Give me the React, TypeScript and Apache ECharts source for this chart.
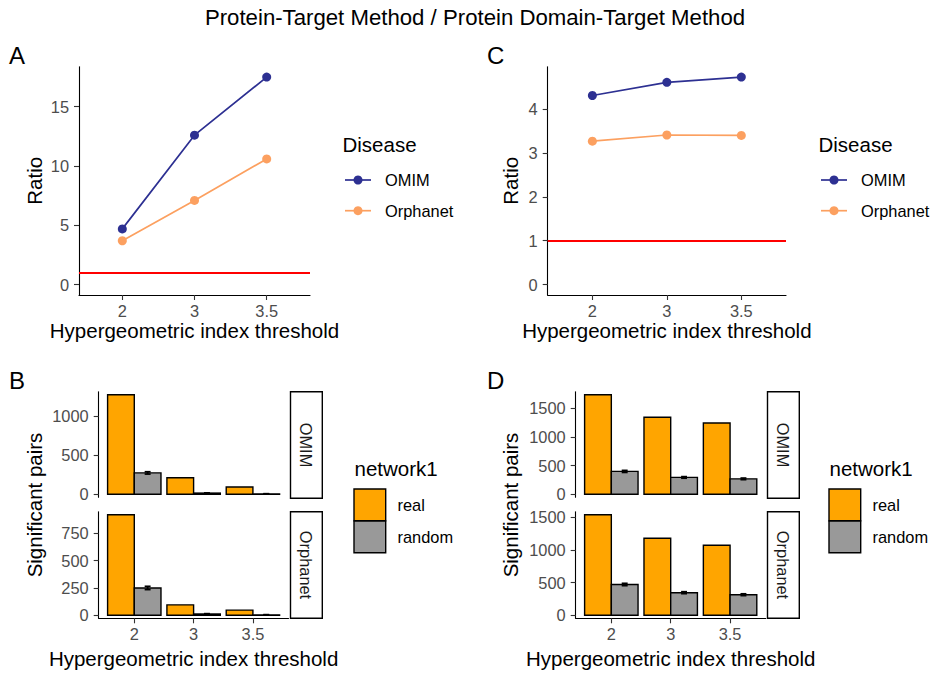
import React, { useEffect, useRef } from "react";
import * as echarts from "echarts";

// ---------- data ----------
const thresholds = ["2", "3", "3.5"];
const diseases = ["OMIM", "Orphanet"];
const networkTypes = ["real", "random"];

// Panel A (Protein-Target Method): ratio
const ratioA_OMIM = [4.7, 12.6, 17.5];
const ratioA_Orphanet = [3.7, 7.1, 10.6];
// Panel C (Protein Domain-Target Method): ratio
const ratioC_OMIM = [4.31, 4.61, 4.73];
const ratioC_Orphanet = [3.27, 3.41, 3.4];
const ratioReference = 1;

// Panel B: significant pairs
const pairsB_OMIM_real = [1280, 213, 93];
const pairsB_OMIM_random = [275, 16, 6];
const pairsB_OMIM_randomErr = [15, 3, 2];
const pairsB_Orphanet_real = [920, 95, 47];
const pairsB_Orphanet_random = [250, 12, 4];
const pairsB_Orphanet_randomErr = [15, 3, 2];
// Panel D: significant pairs
const pairsD_OMIM_real = [1740, 1345, 1245];
const pairsD_OMIM_random = [400, 295, 270];
const pairsD_OMIM_randomErr = [18, 14, 14];
const pairsD_Orphanet_real = [1535, 1175, 1068];
const pairsD_Orphanet_random = [470, 345, 314];
const pairsD_Orphanet_randomErr = [18, 15, 14];

// tick labels
const ticksA = [0, 5, 10, 15];
const ticksC = [0, 1, 2, 3, 4];
const ticksB_OMIM = [0, 500, 1000];
const ticksB_Orphanet = [0, 250, 500, 750];
const ticksD = [0, 500, 1000, 1500];

// ---------- style ----------
const FONT = "'Liberation Sans', Arial, Helvetica, sans-serif";
const COL_OMIM = "#2D3092";
const COL_ORPH = "#FCA060";
const COL_REAL = "#FFA500";
const COL_RANDOM = "#999999";
const TICK_FS = 16.4;
const TITLE_FS = 20.5;

const xIdx = thresholds.map((_, i) => i + 1);

function xAxisCfg(gridIndex: number, show: boolean, name?: string, nameGap?: number) {
  return {
    type: "value",
    gridIndex,
    min: 0.4,
    max: 3.6,
    axisLine: { show, onZero: false, lineStyle: { color: "#000", width: 1.1 } },
    axisTick: { show, customValues: xIdx, length: 5, lineStyle: { color: "#333", width: 1.1 } },
    axisLabel: {
      show,
      customValues: xIdx,
      formatter: (v: number) => thresholds[Math.round(v) - 1] ?? "",
      margin: 8,
      color: "#4D4D4D",
      fontSize: TICK_FS,
      fontFamily: FONT,
    },
    splitLine: { show: false },
    name: name || "",
    nameLocation: "middle",
    nameGap: nameGap || 0,
    nameTextStyle: { fontSize: TITLE_FS, color: "#000", fontFamily: FONT },
  };
}

function yAxisCfg(gridIndex: number, min: number, max: number, ticks: number[], name?: string, nameGap?: number) {
  return {
    type: "value",
    gridIndex,
    min,
    max,
    axisLine: { show: true, onZero: false, lineStyle: { color: "#000", width: 1.1 } },
    axisTick: { show: true, customValues: ticks, length: 5, lineStyle: { color: "#333", width: 1.1 } },
    axisLabel: {
      show: true,
      customValues: ticks,
      formatter: (v: number) => String(Math.round(v * 100) / 100),
      margin: 10,
      color: "#4D4D4D",
      fontSize: TICK_FS,
      fontFamily: FONT,
    },
    splitLine: { show: false },
    name: name || "",
    nameLocation: "middle",
    nameGap: nameGap || 0,
    nameTextStyle: { fontSize: TITLE_FS, color: "#000", fontFamily: FONT },
  };
}

function lineRange(a: number[], b: number[]) {
  const m = Math.max(...a, ...b, 0);
  return [-0.05 * m, 1.05 * m];
}
function barRange(real: number[], rnd: number[], err: number[]) {
  const m = Math.max(...real, ...rnd.map((v, i) => v + err[i]));
  return [-0.03 * m, 1.03 * m];
}

function lineSeries(name: string, vals: number[], color: string, gi: number, withRef: boolean) {
  const s: any = {
    type: "line",
    name,
    xAxisIndex: gi,
    yAxisIndex: gi,
    data: vals.map((v, i) => [xIdx[i], v]),
    symbol: "circle",
    symbolSize: 9,
    itemStyle: { color },
    lineStyle: { color, width: 1.7 },
  };
  if (withRef) {
    s.markLine = {
      silent: true,
      symbol: ["none", "none"],
      label: { show: false },
      lineStyle: { color: "#FF0000", width: 1.8, type: "solid", opacity: 1 },
      data: [{ yAxis: ratioReference }],
    };
  }
  return s;
}

function barSeries(gi: number, real: number[], rnd: number[]) {
  const data: number[][] = [];
  real.forEach((v, i) => data.push([xIdx[i], v, 0]));
  rnd.forEach((v, i) => data.push([xIdx[i], v, 1]));
  return {
    type: "custom",
    name: networkTypes.join("/"),
    coordinateSystem: "cartesian2d",
    xAxisIndex: gi,
    yAxisIndex: gi,
    encode: { x: 0, y: 1 },
    data,
    renderItem: (params: any, api: any) => {
      const x = api.value(0);
      const y = api.value(1);
      const g = api.value(2);
      const p0 = api.coord([x - 0.45 + g * 0.45, y]);
      const p1 = api.coord([x + g * 0.45, 0]);
      return {
        type: "rect",
        shape: { x: p0[0], y: p0[1], width: p1[0] - p0[0], height: p1[1] - p0[1] },
        style: { fill: g ? COL_RANDOM : COL_REAL, stroke: "#000", lineWidth: 1.4 },
      };
    },
  };
}

function errSeries(gi: number, rnd: number[], err: number[]) {
  return {
    type: "custom",
    name: "random error",
    coordinateSystem: "cartesian2d",
    xAxisIndex: gi,
    yAxisIndex: gi,
    encode: { x: 0, y: 1 },
    data: rnd.map((v, i) => [xIdx[i], v, err[i]]),
    z: 5,
    renderItem: (params: any, api: any) => {
      const x = api.value(0) + 0.225;
      const m = api.value(1);
      const e = api.value(2);
      const lo = api.coord([x, Math.max(m - e, 0)]);
      const hi = api.coord([x, m + e]);
      const loL = api.coord([x - 0.05, m - e]);
      const loR = api.coord([x + 0.05, m - e]);
      const hiL = api.coord([x - 0.05, m + e]);
      const hiR = api.coord([x + 0.05, m + e]);
      const st = { stroke: "#000", lineWidth: 1.7 };
      return {
        type: "group",
        children: [
          { type: "line", shape: { x1: lo[0], y1: lo[1], x2: hi[0], y2: hi[1] }, style: st },
          { type: "line", shape: { x1: loL[0], y1: loL[1], x2: loR[0], y2: loR[1] }, style: st },
          { type: "line", shape: { x1: hiL[0], y1: hiL[1], x2: hiR[0], y2: hiR[1] }, style: st },
        ],
      };
    },
  };
}

function txt(text: string, x: number, y: number, fontSize: number, opts: any = {}) {
  return {
    type: "text",
    x,
    y,
    rotation: opts.rotation || 0,
    silent: true,
    style: {
      text,
      fontSize,
      fontFamily: FONT,
      fill: opts.fill || "#000",
      align: opts.align || "left",
      verticalAlign: "middle",
    },
  };
}

function strip(label: string, x: number, y: number, w: number, h: number) {
  return [
    { type: "rect", shape: { x, y, width: w, height: h }, style: { fill: "#fff", stroke: "#000", lineWidth: 1.4 } },
    txt(label, x + w / 2, y + h / 2, TICK_FS, { rotation: -Math.PI / 2, align: "center", fill: "#1A1A1A" }),
  ];
}

function lineLegend(dx: number) {
  const items: any[] = [txt("Disease", 342.5 + dx, 144, TITLE_FS)];
  const cols = [COL_OMIM, COL_ORPH];
  const ys = [180, 210.7];
  diseases.forEach((d, i) => {
    items.push({ type: "line", shape: { x1: 345 + dx, y1: ys[i], x2: 371 + dx, y2: ys[i] }, style: { stroke: cols[i], lineWidth: 1.7 } });
    items.push({ type: "circle", shape: { cx: 358 + dx, cy: ys[i], r: 4.5 }, style: { fill: cols[i] } });
    items.push(txt(d, 385 + dx, ys[i], TICK_FS));
  });
  return items;
}

function barLegend(dx: number) {
  const items: any[] = [txt("network1", 354.5 + dx, 468, TITLE_FS)];
  const cols = [COL_REAL, COL_RANDOM];
  const ys = [489, 521];
  networkTypes.forEach((n, i) => {
    items.push({ type: "rect", shape: { x: 354 + dx, y: ys[i], width: 31.7, height: 31.7 }, style: { fill: cols[i], stroke: "#000", lineWidth: 1.4 } });
    items.push(txt(n, 397.5 + dx, ys[i] + 15.5, TICK_FS));
  });
  return items;
}

export default function App() {
  const ref = useRef<HTMLDivElement>(null);

  useEffect(() => {
    if (!ref.current) return;
    const chart = echarts.init(ref.current, null, { renderer: "svg" });

    const rA = lineRange(ratioA_OMIM, ratioA_Orphanet);
    const rC = lineRange(ratioC_OMIM, ratioC_Orphanet);
    const rB1 = barRange(pairsB_OMIM_real, pairsB_OMIM_random, pairsB_OMIM_randomErr);
    const rB2 = barRange(pairsB_Orphanet_real, pairsB_Orphanet_random, pairsB_Orphanet_randomErr);
    const rD1 = barRange(pairsD_OMIM_real, pairsD_OMIM_random, pairsD_OMIM_randomErr);
    const rD2 = barRange(pairsD_Orphanet_real, pairsD_Orphanet_random, pairsD_Orphanet_randomErr);

    const gridBase = { containLabel: false, outerBoundsMode: "none" };

    const option: any = {
      animation: false,
      backgroundColor: "#fff",
      grid: [
        { ...gridBase, left: 79, top: 66.7, width: 231, height: 228.3 },
        { ...gridBase, left: 547.7, top: 66.7, width: 238.3, height: 228.3 },
        { ...gridBase, left: 98.7, top: 391.7, width: 189.8, height: 105.6 },
        { ...gridBase, left: 98.7, top: 511.7, width: 189.8, height: 106.6 },
        { ...gridBase, left: 575.7, top: 391.7, width: 190, height: 105.6 },
        { ...gridBase, left: 575.7, top: 511.7, width: 190, height: 106.6 },
      ],
      xAxis: [
        xAxisCfg(0, true, "Hypergeometric index threshold", 25),
        xAxisCfg(1, true, "Hypergeometric index threshold", 25),
        xAxisCfg(2, false),
        xAxisCfg(3, true, "Hypergeometric index threshold", 30),
        xAxisCfg(4, false),
        xAxisCfg(5, true, "Hypergeometric index threshold", 30),
      ],
      yAxis: [
        yAxisCfg(0, rA[0], rA[1], ticksA, "Ratio", 34),
        yAxisCfg(1, rC[0], rC[1], ticksC, "Ratio", 27),
        yAxisCfg(2, rB1[0], rB1[1], ticksB_OMIM),
        yAxisCfg(3, rB2[0], rB2[1], ticksB_Orphanet),
        yAxisCfg(4, rD1[0], rD1[1], ticksD),
        yAxisCfg(5, rD2[0], rD2[1], ticksD),
      ],
      series: [
        lineSeries("OMIM", ratioA_OMIM, COL_OMIM, 0, true),
        lineSeries("Orphanet", ratioA_Orphanet, COL_ORPH, 0, false),
        lineSeries("OMIM", ratioC_OMIM, COL_OMIM, 1, true),
        lineSeries("Orphanet", ratioC_Orphanet, COL_ORPH, 1, false),
        barSeries(2, pairsB_OMIM_real, pairsB_OMIM_random),
        errSeries(2, pairsB_OMIM_random, pairsB_OMIM_randomErr),
        barSeries(3, pairsB_Orphanet_real, pairsB_Orphanet_random),
        errSeries(3, pairsB_Orphanet_random, pairsB_Orphanet_randomErr),
        barSeries(4, pairsD_OMIM_real, pairsD_OMIM_random),
        errSeries(4, pairsD_OMIM_random, pairsD_OMIM_randomErr),
        barSeries(5, pairsD_Orphanet_real, pairsD_Orphanet_random),
        errSeries(5, pairsD_Orphanet_random, pairsD_Orphanet_randomErr),
      ],
      graphic: [
        txt("Protein-Target Method / Protein Domain-Target Method", 475, 17, 22.2, { align: "center" }),
        txt("A", 9, 55, 24),
        txt("B", 9, 380, 24),
        txt("C", 487, 55, 24),
        txt("D", 487, 380, 24),
        txt("Significant pairs", 34, 505, TITLE_FS, { rotation: Math.PI / 2, align: "center" }),
        txt("Significant pairs", 510, 505, TITLE_FS, { rotation: Math.PI / 2, align: "center" }),
        ...strip(diseases[0], 290.5, 391.7, 31.8, 106.6),
        ...strip(diseases[1], 290.5, 511.7, 31.8, 106.6),
        ...strip(diseases[0], 767.5, 391.7, 31.8, 106.6),
        ...strip(diseases[1], 767.5, 511.7, 31.8, 106.6),
        ...lineLegend(0),
        ...lineLegend(476),
        ...barLegend(0),
        ...barLegend(475),
      ],
    };

    chart.setOption(option);
    return () => chart.dispose();
  }, []);

  return <div ref={ref} style={{ position: "absolute", left: 0, top: 0, width: 941, height: 677 }} />;
}
